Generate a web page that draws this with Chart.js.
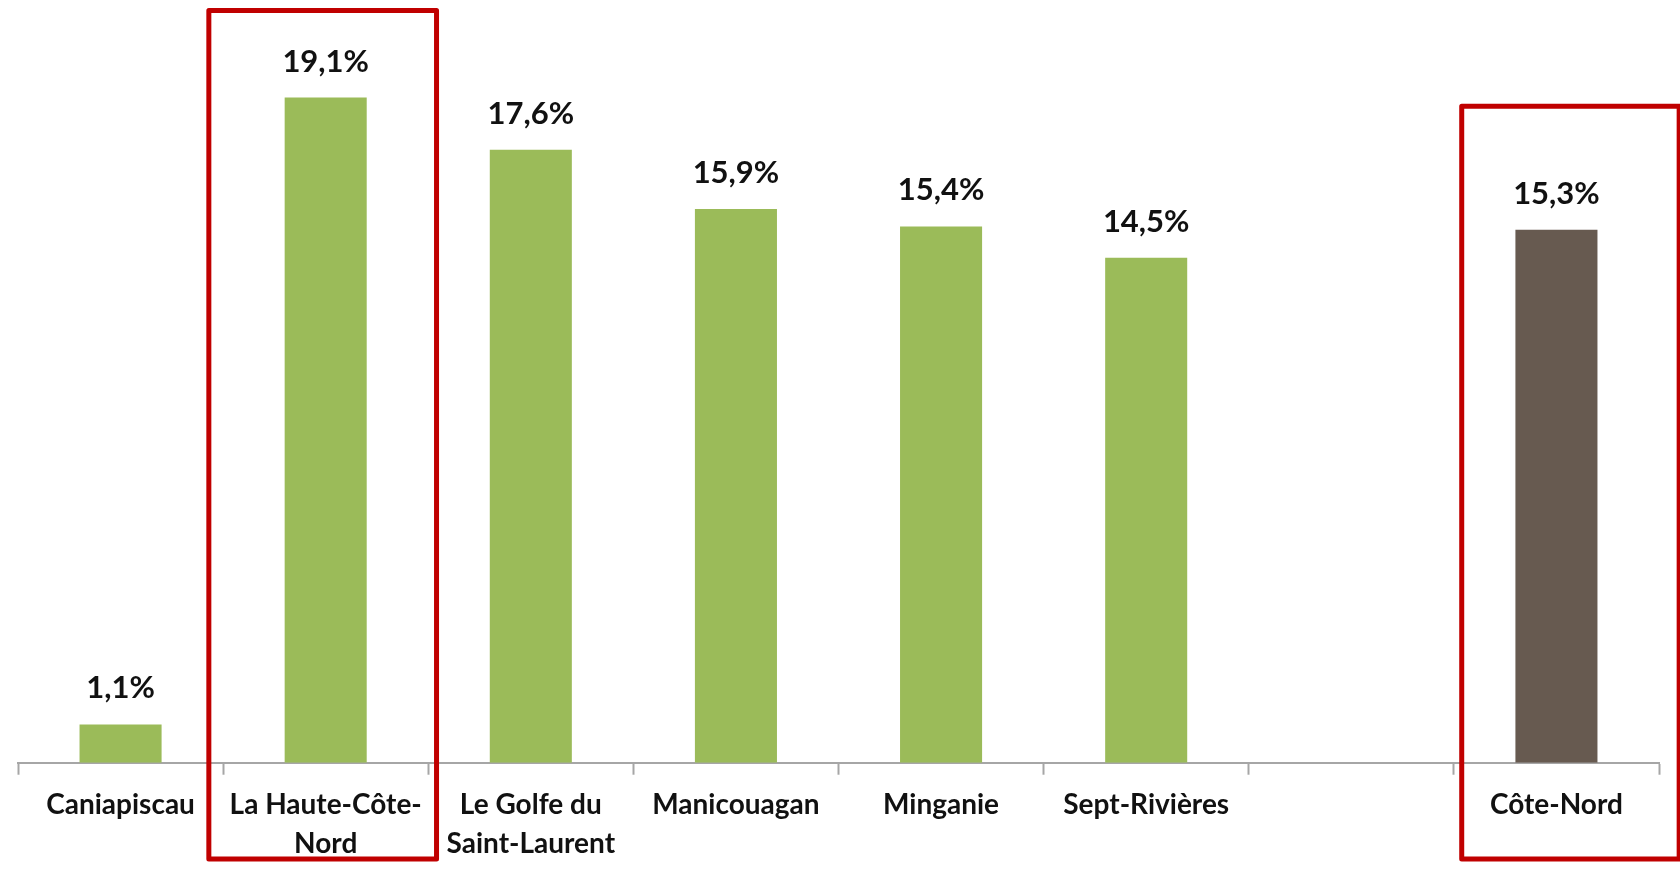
<!DOCTYPE html>
<html>
<head>
<meta charset="utf-8">
<script src="https://cdn.jsdelivr.net/npm/chart.js@4/dist/chart.umd.min.js"></script>
<style>
  html, body { margin: 0; padding: 0; background: #fff; }
  #wrap { width: 1680px; height: 879px; position: relative; }
</style>
</head>
<body>
<div id="wrap"><canvas id="c"></canvas></div>
<script>
// Regions of Côte-Nord; the empty entry is the gap before the regional total
const categories = [
  "Caniapiscau",
  ["La Haute-Côte-", "Nord"],
  ["Le Golfe du", "Saint-Laurent"],
  "Manicouagan",
  "Minganie",
  "Sept-Rivières",
  "",
  "Côte-Nord"
];
const values = [1.1, 19.1, 17.6, 15.9, 15.4, 14.5, null, 15.3];
const isTotal = [false, false, false, false, false, false, false, true];
const highlighted = [1, 7];

const GREEN = "#9BBB59";
const BROWN = "#675A50";
const AXIS = "#A6A6A6";
const FONT = "Lato, 'Open Sans', sans-serif";

// percent labels above each bar, written the French way (19,1%)
const valueLabels = {
  id: "valueLabels",
  afterDatasetsDraw(chart) {
    const { ctx } = chart;
    const meta = chart.getDatasetMeta(0);
    ctx.save();
    ctx.font = "bold 31px " + FONT;
    ctx.fillStyle = "#111";
    ctx.textAlign = "center";
    ctx.textBaseline = "alphabetic";
    meta.data.forEach((bar, i) => {
      if (values[i] == null) return;
      ctx.fillText(values[i].toFixed(1).replace(".", ",") + "%", bar.x, bar.y - 26);
    });
    ctx.restore();
  }
};

// red frames round the highlighted columns
const frames = {
  id: "frames",
  afterDraw(chart, _args, opts) {
    const { ctx, scales: { x, y } } = chart;
    const step = x.width / categories.length;
    ctx.save();
    ctx.strokeStyle = opts.color;
    ctx.lineWidth = opts.width;
    ctx.lineJoin = "round";
    highlighted.forEach((i, k) => {
      const cx = x.getPixelForValue(i) + opts.shift[k];
      const half = step * opts.halfWidth[k];
      const top = y.getPixelForValue(opts.topValue[k]);
      ctx.strokeRect(cx - half, top, half * 2, opts.bottom - top);
    });
    ctx.restore();
  }
};

new Chart(document.getElementById("c"), {
  type: "bar",
  data: {
    labels: categories,
    datasets: [{
      data: values,
      backgroundColor: isTotal.map(t => t ? BROWN : GREEN),
      borderWidth: 0,
      barPercentage: 0.4,
      categoryPercentage: 1
    }]
  },
  options: {
    responsive: true,
    maintainAspectRatio: false,
    animation: false,
    layout: { padding: { left: 18, right: 21, top: 0, bottom: 5 } },
    plugins: {
      legend: { display: false },
      tooltip: { enabled: false },
      frames: {
        color: "#C00000",
        width: 5,
        shift: [-3, 14],
        halfWidth: [0.555, 0.53],
        topValue: [21.6, 18.85],
        bottom: 859
      }
    },
    scales: {
      y: { display: false, min: 0, max: 21.9 },
      x: {
        border: { display: true, color: AXIS, width: 2 },
        grid: {
          offset: true,
          drawOnChartArea: false,
          drawTicks: true,
          tickLength: 12,
          tickColor: AXIS,
          tickWidth: 2
        },
        ticks: {
          color: "#111",
          padding: 11,
          maxRotation: 0,
          autoSkip: false,
          font: { family: FONT, size: 28, weight: "bold", lineHeight: 1.38 }
        }
      }
    }
  },
  plugins: [valueLabels, frames]
});
</script>
</body>
</html>
